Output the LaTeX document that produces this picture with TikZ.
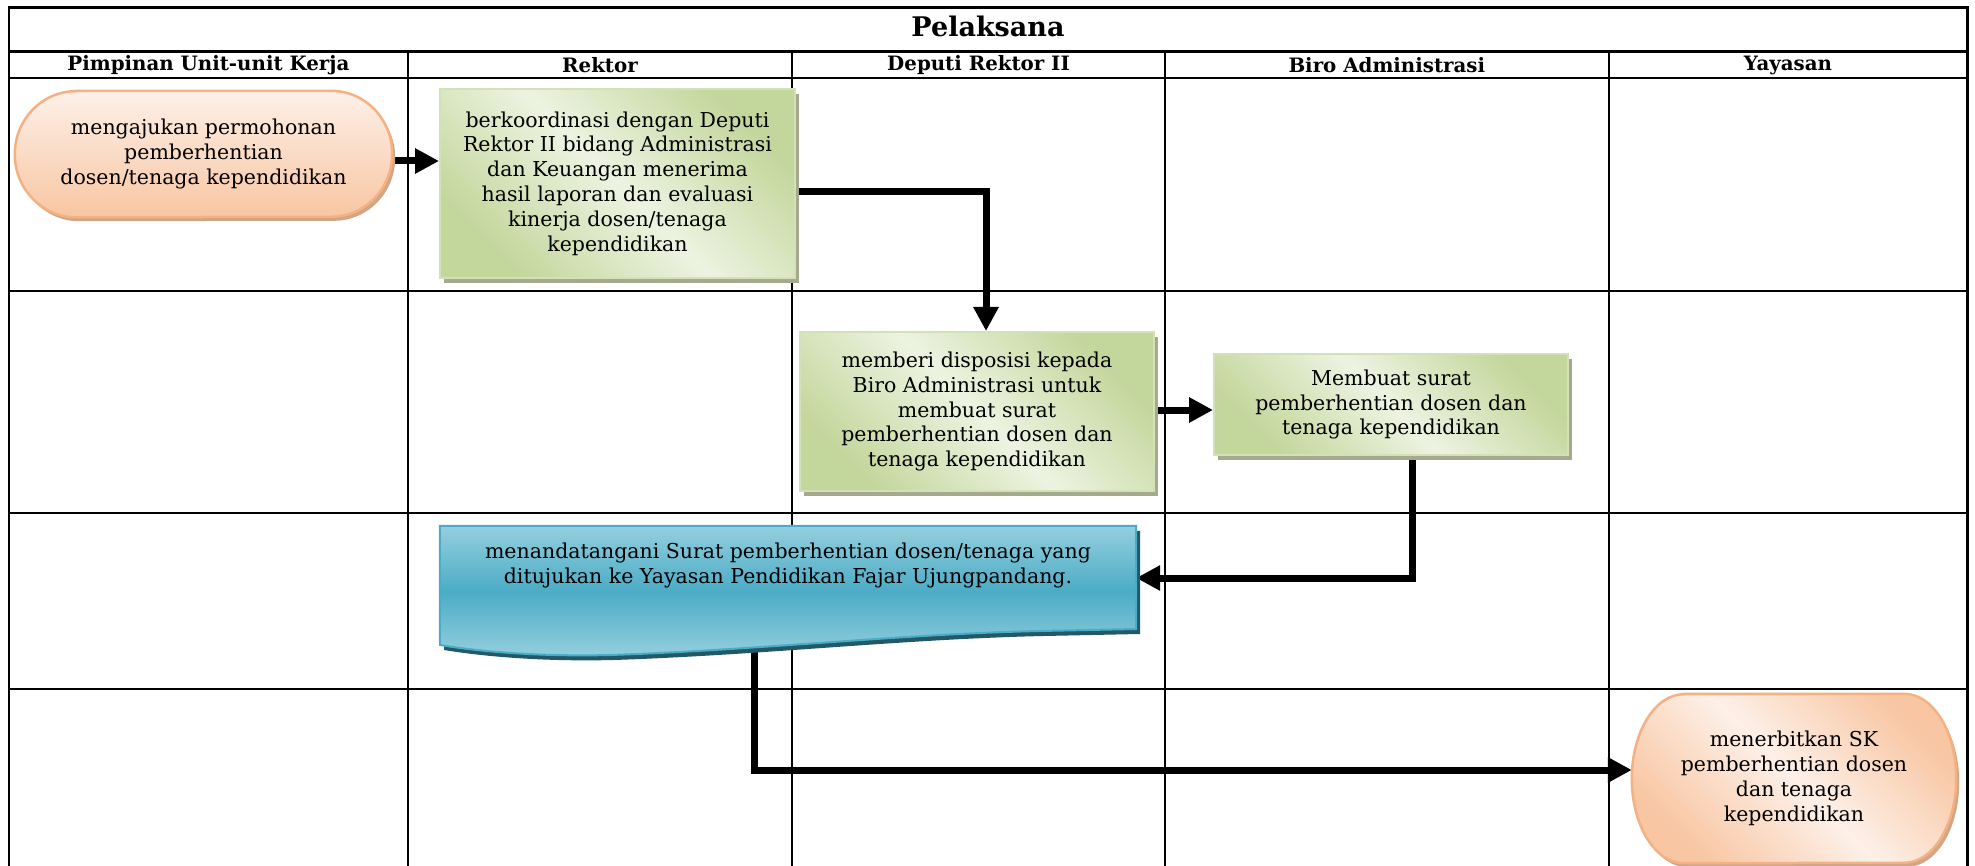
\documentclass[tikz,border=0pt]{standalone}
\usepackage{fontspec}
\setmainfont{DejaVu Serif}
\usetikzlibrary{arrows.meta,shadows,calc}
\pgfdeclarelayer{grid}\pgfdeclarelayer{conn}\pgfdeclarelayer{shapes}
\pgfsetlayers{grid,conn,shapes,main}
\definecolor{orgL}{HTML}{FDF0E8}
\definecolor{orgD}{HTML}{F8C6A2}
\definecolor{orgB}{HTML}{F4B183}
\definecolor{orgS}{HTML}{D2A584}
\definecolor{grnD}{HTML}{C3D69B}
\definecolor{grnL}{HTML}{EDF3E1}
\definecolor{grnB}{HTML}{D3E1B6}
\definecolor{grnS}{HTML}{A5A98D}
\definecolor{bluL}{HTML}{95CFDE}
\definecolor{bluD}{HTML}{4BACC6}
\definecolor{bluB}{HTML}{4BACC6}
\definecolor{bluS}{HTML}{215968}
\begin{document}
\begin{tikzpicture}[x=1pt,y=-1pt,
  txt/.style={font=\fontsize{20.5}{24.8}\selectfont, align=center, inner sep=0pt},
  hdr/.style={font=\fontsize{19.8}{22}\selectfont\bfseries, inner sep=0pt},
  frame/.style={line width=2.2pt, black},
  lane/.style={line width=2pt, black},
  gbox/.style={txt, draw=grnB, line width=2pt, top color=grnD, bottom color=grnD, middle color=grnL, shading angle=-45,
    drop shadow={shadow xshift=4pt, shadow yshift=-5pt, fill=grnS, opacity=1}},
  term/.style={draw=orgB, line width=2.5pt,
    drop shadow={shadow xshift=3pt, shadow yshift=-4pt, fill=orgS, opacity=1}},
  arr/.style={line width=7pt, line join=miter, -{Triangle[length=24pt,width=24pt]}}
]
\useasboundingbox (0,0) rectangle (1975,866);

% ---------- grid ----------
\begin{pgfonlayer}{grid}
\draw[frame] (8.8,880) -- (8.8,7.6) -- (1967.5,7.6) -- (1967.5,880);
\draw[frame] (8.8,51.6) -- (1967.5,51.6);
\draw[frame] (8.8,78) -- (1967.5,78);
\foreach \yy in {291,512.6,689} \draw[lane] (8.8,\yy) -- (1967.5,\yy);
\foreach \xx in {408,792,1165,1608.5} \draw[lane] (\xx,51.6) -- (\xx,880);
\end{pgfonlayer}

% ---------- headers ----------
\node[font=\fontsize{27}{30}\selectfont\bfseries, inner sep=0pt] (title) at (988,26) {Pelaksana};
\node[hdr] (h1) at (208.4,65) {Pimpinan Unit-unit Kerja};
\node[hdr] (h2) at (600,65) {Rektor};
\node[hdr] (h3) at (978.5,65) {Deputi Rektor II};
\node[hdr] (h4) at (1386.8,65) {Biro Administrasi};
\node[hdr] (h5) at (1788,65) {Yayasan};

% ---------- nodes ----------
\node[txt, minimum width=377pt, minimum height=126pt] (start) at (203.5,154)
  {mengajukan permohonan\\pemberhentian\\dosen/tenaga kependidikan};
\node[gbox, minimum width=355pt, minimum height=189pt] (koord) at (617.5,183.5)
  {berkoordinasi dengan Deputi\\Rektor II bidang Administrasi\\dan Keuangan menerima\\hasil laporan dan evaluasi\\kinerja dosen/tenaga\\kependidikan};
\node[gbox, minimum width=354pt, minimum height=159pt] (dispo) at (977,411.5)
  {memberi disposisi kepada\\Biro Administrasi untuk\\membuat surat\\pemberhentian dosen dan\\tenaga kependidikan};
\node[gbox, minimum width=354pt, minimum height=101pt] (surat) at (1391,404.5)
  {Membuat surat\\pemberhentian dosen dan\\tenaga kependidikan};
\node[txt, minimum width=696pt, minimum height=124pt] (sign) at (788,588)
  {\raisebox{17pt}[0pt][0pt]{\begin{tabular}{@{}c@{}}menandatangani Surat pemberhentian dosen/tenaga yang\\ditujukan ke Yayasan Pendidikan Fajar Ujungpandang.\end{tabular}}};
\node[txt, minimum width=324pt, minimum height=169pt] (sk) at (1794,778.5)
  {menerbitkan SK\\pemberhentian dosen\\dan tenaga\\kependidikan};

% ---------- custom shapes ----------
\begin{pgfonlayer}{shapes}
\path[term, top color=orgL, bottom color=orgD]
  ($(start.north west)+(61pt,0)$) -- ($(start.north east)+(-61pt,0)$)
  arc[start angle=90, end angle=-90, x radius=61pt, y radius=63pt]
  -- ($(start.south west)+(61pt,0)$)
  arc[start angle=270, end angle=90, x radius=61pt, y radius=63pt] -- cycle;
\path[term, top color=orgD, bottom color=orgD, middle color=orgL, shading angle=-45]
  ($(sk.north west)+(52pt,0)$) -- ($(sk.north east)+(-52pt,0)$)
  arc[start angle=90, end angle=-90, x radius=52pt, y radius=84.5pt]
  -- ($(sk.south west)+(52pt,0)$)
  arc[start angle=270, end angle=90, x radius=52pt, y radius=84.5pt] -- cycle;
\path[draw=bluB, line width=2pt, top color=bluL, bottom color=bluL, middle color=bluD,
      drop shadow={shadow xshift=4pt, shadow yshift=-5pt, fill=bluS, opacity=1}]
  (sign.north west) -- (sign.north east) -- (1136,629) -- (1040,631)
  .. controls (900,634) and (760,650) .. (610,655)
  .. controls (530,657) and (470,650) .. (440,645) -- cycle;
\end{pgfonlayer}

% ---------- connectors ----------
\begin{pgfonlayer}{conn}
\draw[arr] (start.east |- 0,161) -- (koord.west |- 0,161);
\draw[arr] (koord.east |- 0,192) -| (dispo.north -| 986,0);
\draw[arr] (dispo.east |- 0,410) -- (surat.west |- 0,410);
\draw[arr] (surat.south -| 1412,0) |- (sign.east |- 0,578);
\draw[arr] (sign.south -| 754,0) |- (sk.west |- 0,770);
\end{pgfonlayer}
\end{tikzpicture}
\end{document}
